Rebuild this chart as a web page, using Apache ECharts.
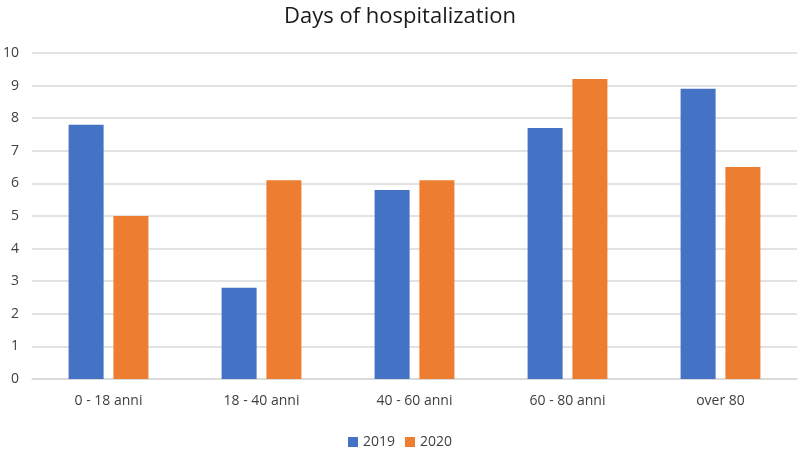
<!DOCTYPE html>
<html>
<head>
<meta charset="utf-8">
<script src="https://cdn.jsdelivr.net/npm/echarts@6/dist/echarts.min.js"></script>
<style>html,body{margin:0;padding:0;background:#fff}#c{width:800px;height:449px}</style>
</head>
<body>
<div id="c"></div>
<script>
const categories = ['0 - 18 anni', '18 - 40 anni', '40 - 60 anni', '60 - 80 anni', 'over 80'];
const values2019 = [7.8, 2.8, 5.8, 7.7, 8.9];
const values2020 = [5.0, 6.1, 6.1, 9.2, 6.5];
const seriesNames = ['2019', '2020'];

const chart = echarts.init(document.getElementById('c'));
const font = '"Open Sans", "Liberation Sans", sans-serif';
chart.setOption({
  animation: false,
  title: {
    text: 'Days of hospitalization',
    left: 'center',
    top: 1,
    textStyle: { fontFamily: font, fontSize: 22, fontWeight: 'normal', color: '#1a1a1a' }
  },
  legend: {
    data: seriesNames,
    top: 430,
    left: 'center',
    icon: 'rect',
    itemWidth: 10,
    itemHeight: 10,
    itemGap: 10,
    textStyle: { fontFamily: font, fontSize: 14, color: '#404040' }
  },
  grid: { left: 31, right: 3, top: 53, bottom: 70, containLabel: false },
  xAxis: {
    type: 'category',
    data: categories,
    axisLine: { lineStyle: { color: '#d9d9d9', width: 1.5 } },
    axisTick: { show: false },
    axisLabel: { fontFamily: font, fontSize: 14, color: '#404040', margin: 15 }
  },
  yAxis: {
    type: 'value',
    min: 0, max: 10, interval: 1,
    axisLine: { show: false },
    axisTick: { show: false },
    splitLine: { lineStyle: { color: '#d9d9d9', width: 1.5 } },
    axisLabel: { fontFamily: font, fontSize: 14, color: '#404040', margin: 13 }
  },
  series: [
    { name: seriesNames[0], type: 'bar', data: values2019, barWidth: 35, barGap: '28%', itemStyle: { color: '#4472c4' } },
    { name: seriesNames[1], type: 'bar', data: values2020, barWidth: 35, barGap: '28%', itemStyle: { color: '#ed7d31' } }
  ]
});
</script>
</body>
</html>
